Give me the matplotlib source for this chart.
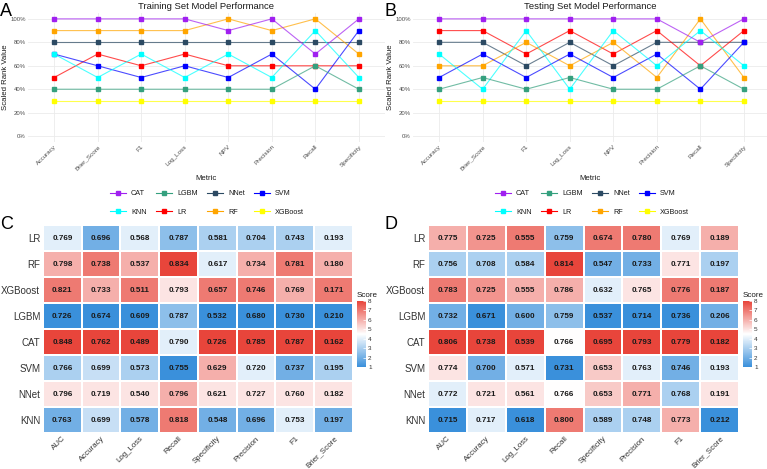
import matplotlib.pyplot as plt
import numpy as np
from matplotlib.colors import LinearSegmentedColormap
from matplotlib.lines import Line2D

plt.rcParams['font.family'] = ['Liberation Sans', 'DejaVu Sans']

W, H = 767, 469

# ---- line charts (scaled rank, %) ----
line_metrics = ['Accuracy', 'Brier_Score', 'F1', 'Log_Loss', 'NPV', 'Precision', 'Recall', 'Specificity']
legend_models = ['CAT', 'KNN', 'LGBM', 'LR', 'NNet', 'RF', 'SVM', 'XGBoost']
draw_order = ['NNet', 'LR', 'RF', 'SVM', 'KNN', 'LGBM', 'CAT', 'XGBoost']
model_colors = {'CAT': '#A020F0', 'KNN': '#00FFFF', 'LGBM': '#35A07E', 'LR': '#FF0000',
                'NNet': '#2C4A63', 'RF': '#FFA500', 'SVM': '#0000FF', 'XGBoost': '#FFFF00'}

train_cat = [100, 100, 100, 100, 90, 100, 70, 100]
train_knn = [70, 50, 70, 50, 70, 50, 90, 50]
train_lgbm = [40, 40, 40, 40, 40, 40, 60, 40]
train_lr = [50, 70, 60, 70, 60, 60, 60, 60]
train_nnet = [80, 80, 80, 80, 80, 80, 80, 80]
train_rf = [90, 90, 90, 90, 100, 90, 100, 70]
train_svm = [70, 60, 50, 60, 50, 70, 40, 90]
train_xgb = [30, 30, 30, 30, 30, 30, 30, 30]

test_cat = [100, 100, 100, 100, 100, 100, 80, 100]
test_knn = [70, 40, 90, 40, 90, 60, 90, 60]
test_lgbm = [40, 50, 40, 50, 40, 40, 60, 40]
test_lr = [90, 90, 70, 90, 70, 90, 60, 90]
test_nnet = [80, 80, 60, 80, 60, 80, 80, 80]
test_rf = [60, 60, 80, 60, 80, 50, 100, 50]
test_svm = [50, 70, 50, 70, 50, 70, 40, 80]
test_xgb = [30, 30, 30, 30, 30, 30, 30, 30]

train_lines = {'CAT': train_cat, 'KNN': train_knn, 'LGBM': train_lgbm, 'LR': train_lr,
               'NNet': train_nnet, 'RF': train_rf, 'SVM': train_svm, 'XGBoost': train_xgb}
test_lines = {'CAT': test_cat, 'KNN': test_knn, 'LGBM': test_lgbm, 'LR': test_lr,
              'NNet': test_nnet, 'RF': test_rf, 'SVM': test_svm, 'XGBoost': test_xgb}

# ---- heatmaps ----
hm_models = ['LR', 'RF', 'XGBoost', 'LGBM', 'CAT', 'SVM', 'NNet', 'KNN']
hm_metrics = ['AUC', 'Accuracy', 'Log_Loss', 'Recall', 'Specificity', 'Precision', 'F1', 'Brier_Score']

train_values = [
    [0.769, 0.696, 0.568, 0.787, 0.581, 0.704, 0.743, 0.193],
    [0.798, 0.738, 0.537, 0.834, 0.617, 0.734, 0.781, 0.180],
    [0.821, 0.733, 0.511, 0.793, 0.657, 0.746, 0.769, 0.171],
    [0.726, 0.674, 0.609, 0.787, 0.532, 0.680, 0.730, 0.210],
    [0.848, 0.762, 0.489, 0.790, 0.726, 0.785, 0.787, 0.162],
    [0.766, 0.699, 0.573, 0.755, 0.629, 0.720, 0.737, 0.195],
    [0.796, 0.719, 0.540, 0.796, 0.621, 0.727, 0.760, 0.182],
    [0.763, 0.699, 0.578, 0.818, 0.548, 0.696, 0.753, 0.197],
]
train_scores = [
    [4, 2, 4, 2.5, 3, 3, 3, 4],
    [6, 7, 6, 8, 4, 6, 7, 6],
    [7, 6, 7, 5, 7, 7, 6, 7],
    [1, 1, 1, 2.5, 1, 1, 1, 1],
    [8, 8, 8, 4, 8, 8, 8, 8],
    [3, 3.5, 3, 1, 6, 4, 2, 3],
    [5, 5, 5, 6, 5, 5, 5, 5],
    [2, 3.5, 2, 7, 2, 2, 4, 2],
]
test_values = [
    [0.775, 0.725, 0.555, 0.759, 0.674, 0.780, 0.769, 0.189],
    [0.756, 0.708, 0.584, 0.814, 0.547, 0.733, 0.771, 0.197],
    [0.783, 0.725, 0.555, 0.786, 0.632, 0.765, 0.776, 0.187],
    [0.732, 0.671, 0.600, 0.759, 0.537, 0.714, 0.736, 0.206],
    [0.806, 0.738, 0.539, 0.766, 0.695, 0.793, 0.779, 0.182],
    [0.774, 0.700, 0.571, 0.731, 0.653, 0.763, 0.746, 0.193],
    [0.772, 0.721, 0.561, 0.766, 0.653, 0.771, 0.768, 0.191],
    [0.715, 0.717, 0.618, 0.800, 0.589, 0.748, 0.773, 0.212],
]
test_scores = [
    [6, 6.5, 7, 2.5, 7, 7, 4, 6],
    [3, 3, 3, 8, 2, 2, 5, 3],
    [7, 6.5, 6, 6, 4, 5, 7, 7],
    [2, 1, 2, 2.5, 1, 1, 1, 2],
    [8, 8, 8, 4.5, 8, 8, 8, 8],
    [5, 2, 4, 1, 5.5, 4, 2, 4],
    [4, 5, 5, 4.5, 5.5, 6, 3, 5],
    [1, 4, 1, 7, 3, 3, 6, 1],
]

cmap = LinearSegmentedColormap.from_list('score', [(0, '#3A90DB'), (0.5, '#FFFFFF'), (1, '#E8453B')])


def box(l, t, r, b):
    return [l / W, 1 - b / H, (r - l) / W, (b - t) / H]


fig = plt.figure(figsize=(W / 100, H / 100), dpi=100)


def line_panel(rect, xmax, data, title, leg_x):
    ax = fig.add_axes(rect)
    x = np.arange(len(line_metrics))
    for m in draw_order:
        y = np.array(data[m]) / 100
        ax.plot(x, y, color=model_colors[m], lw=0.8, alpha=0.7, zorder=2)
        ax.plot(x, y, ls='none', marker='s', ms=3.3, color=model_colors[m], zorder=3)
    ax.set_xlim(-0.6, xmax)
    ax.set_ylim(-0.05, 1.05)
    ax.set_xticks(x)
    ax.set_xticklabels(line_metrics, rotation=45, ha='right', va='top', rotation_mode='anchor',
                       fontsize=4.6, color='#4D4D4D')
    ax.set_yticks(np.arange(0, 1.01, 0.2))
    ax.set_yticklabels([f'{int(round(v * 100))}%' for v in np.arange(0, 1.01, 0.2)], fontsize=4.3,
                       color='#4D4D4D')
    ax.tick_params(length=0, pad=1.5)
    ax.grid(True, color='#EBEBEB', lw=0.6, zorder=0)
    for s in ax.spines.values():
        s.set_visible(False)
    ax.set_title(title, fontsize=6.8, pad=3, color='#1A1A1A')
    ax.set_ylabel('Scaled Rank Value', fontsize=5.6, labelpad=1, color='#1A1A1A')
    ax.set_xlabel('Metric', fontsize=5.6, labelpad=3, color='#1A1A1A')
    handles = [Line2D([], [], color=model_colors[m], marker='s', ms=3, lw=0.8) for m in legend_models]
    fig.legend(handles, legend_models, ncol=4, loc='center', bbox_to_anchor=(leg_x / W, 1 - 203 / H),
               frameon=False, fontsize=5.2, handlelength=2.2, handletextpad=0.7, columnspacing=1.3,
               labelspacing=1.6, labelcolor='#1A1A1A')
    return ax


def heat_panel(rect, cb_rect, values, scores):
    ax = fig.add_axes(rect)
    mesh = ax.pcolormesh(np.array(scores, dtype=float), cmap=cmap, vmin=1, vmax=8,
                         edgecolors='white', linewidth=0.3)
    ax.set_xlim(0, len(hm_metrics))
    ax.set_ylim(len(hm_models), 0)
    for i in range(len(hm_models)):
        for j in range(len(hm_metrics)):
            ax.text(j + 0.5, i + 0.5, f'{values[i][j]:.3f}', ha='center', va='center',
                    fontsize=5.9, fontweight='bold', color='#1A1A1A')
    ax.set_xticks(np.arange(len(hm_metrics)) + 0.5)
    ax.set_xticklabels(hm_metrics, rotation=45, ha='right', va='top', rotation_mode='anchor',
                       fontsize=5.7, color='#333333')
    ax.set_yticks(np.arange(len(hm_models)) + 0.5)
    ax.set_yticklabels(hm_models, fontsize=7, color='#333333')
    ax.tick_params(axis='y', length=0, pad=2)
    ax.tick_params(axis='x', length=0, pad=1.5)
    for s in ax.spines.values():
        s.set_visible(False)
    cax = fig.add_axes(cb_rect)
    cb = fig.colorbar(mesh, cax=cax, ticks=range(1, 9))
    cb.outline.set_visible(False)
    cax.tick_params(length=2, width=0.5, color='white', direction='in', labelsize=4.6, pad=1.5,
                    labelcolor='#333333')
    cax.set_title('Score', fontsize=5.8, loc='left', pad=3, color='#1A1A1A')
    return ax


line_panel(box(28, 13, 385, 142), 7.6, train_lines, 'Training Set Model Performance', 207)
line_panel(box(413, 13, 767, 142), 7.53, test_lines, 'Testing Set Model Performance', 592)
heat_panel(box(43, 225, 353, 433), box(357, 301, 366, 367), train_values, train_scores)
heat_panel(box(428, 225, 739, 433), box(743, 301, 752, 367), test_values, test_scores)

for lab, px, py in [('A', 0, 16), ('B', 385, 16), ('C', 0, 229), ('D', 385, 229)]:
    fig.text(px / W, 1 - py / H, lab, fontsize=13, va='baseline', ha='left', color='#000000')

fig.savefig('out.png', dpi=100)
